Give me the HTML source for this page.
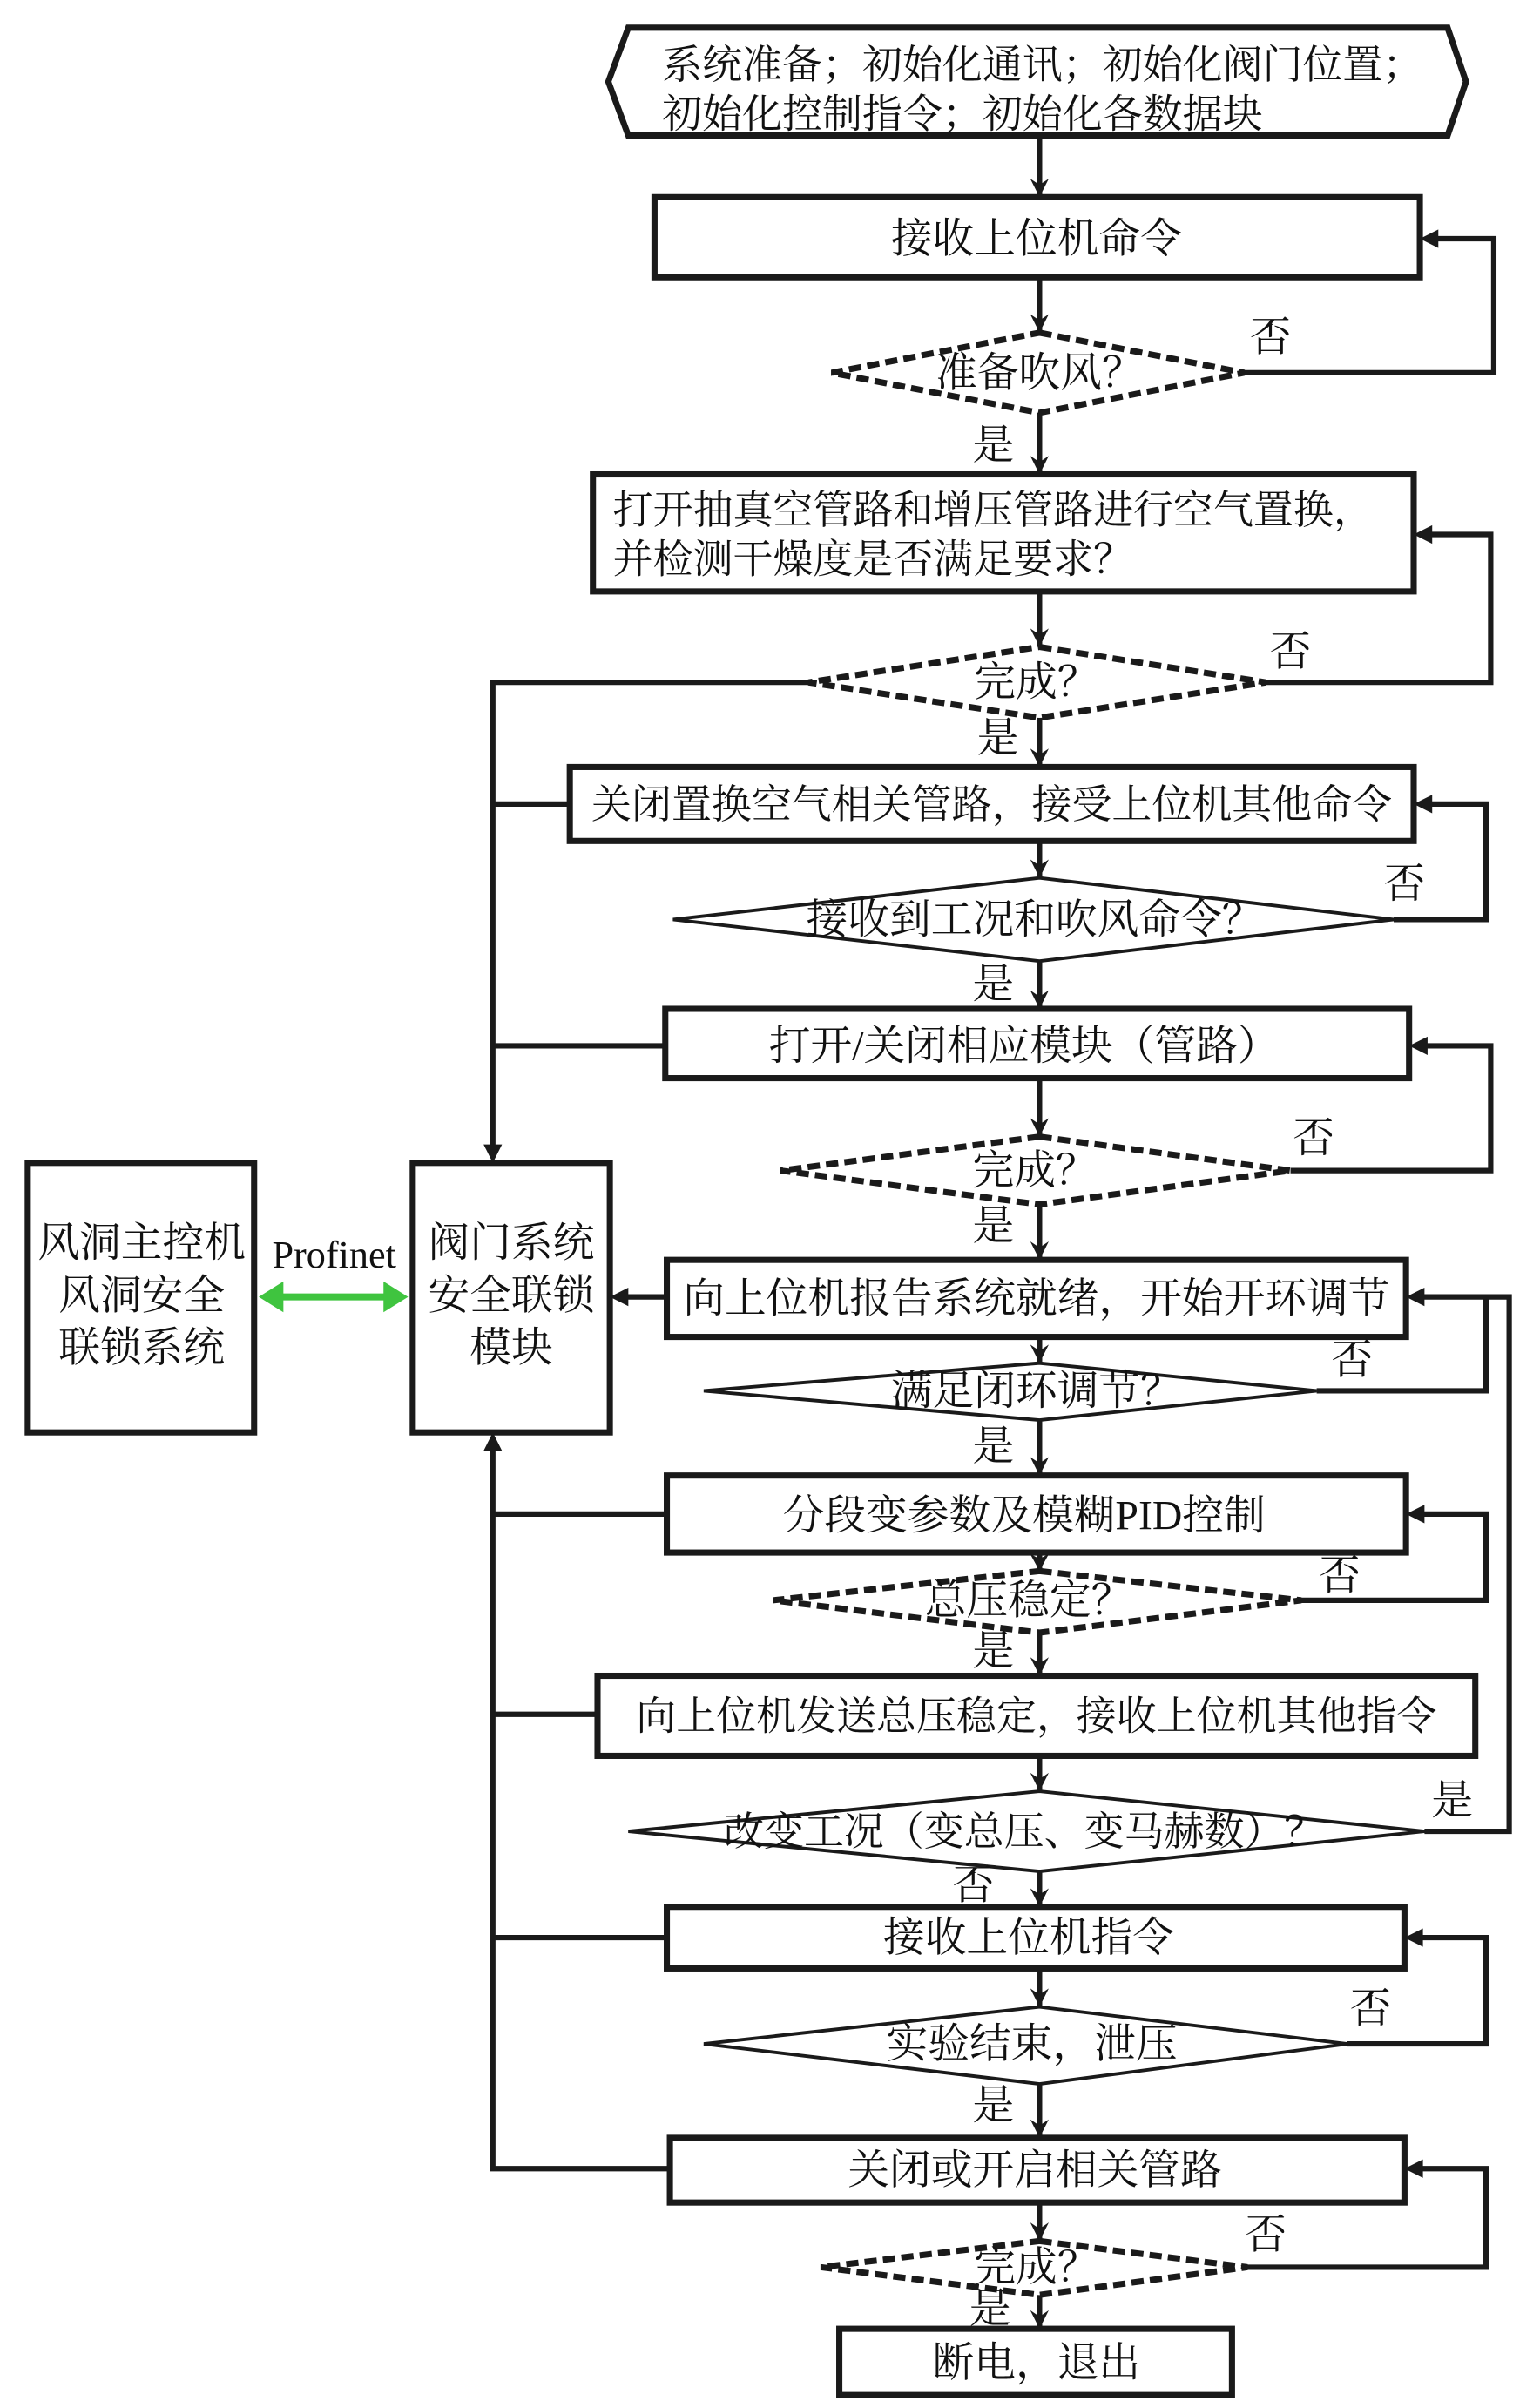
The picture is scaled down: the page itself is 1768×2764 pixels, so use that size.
<!DOCTYPE html>
<html><head><meta charset="utf-8"><style>
html,body{margin:0;padding:0;background:#fff;}
svg{display:block;}
text{font-family:"Liberation Serif","Noto Serif CJK SC",serif;fill:#111;}
</style></head><body>
<svg width="1768" height="2764" viewBox="0 0 1000 1563.4" xmlns="http://www.w3.org/2000/svg">
<g stroke="#1a1a1a" fill="none" stroke-linejoin="miter">
<g stroke-width="3.5">
<line x1="675" y1="88" x2="675" y2="128"/>
<line x1="675" y1="180" x2="675" y2="216"/>
<line x1="675" y1="268" x2="675" y2="308"/>
<line x1="675" y1="384" x2="675" y2="420"/>
<line x1="675" y1="466" x2="675" y2="498"/>
<line x1="675" y1="546" x2="675" y2="570"/>
<line x1="675" y1="624" x2="675" y2="655"/>
<line x1="675" y1="700" x2="675" y2="738"/>
<line x1="675" y1="782" x2="675" y2="818"/>
<line x1="675" y1="868" x2="675" y2="885"/>
<line x1="675" y1="922" x2="675" y2="958"/>
<line x1="675" y1="1008" x2="675" y2="1020"/>
<line x1="675" y1="1060" x2="675" y2="1088"/>
<line x1="675" y1="1140" x2="675" y2="1163"/>
<line x1="675" y1="1215" x2="675" y2="1238"/>
<line x1="675" y1="1278" x2="675" y2="1303"/>
<line x1="675" y1="1353" x2="675" y2="1388"/>
<line x1="675" y1="1430" x2="675" y2="1455"/>
<line x1="675" y1="1490" x2="675" y2="1512"/>
<polyline points="808,242 970,242 970,155 926,155"/>
<polyline points="822,443 968,443 968,347 922,347"/>
<polyline points="905,597 965,597 965,522 922,522"/>
<polyline points="838,760 968,760 968,679 919,679"/>
<polyline points="855,903 965,903 965,842 917,842"/>
<polyline points="845,1039 965,1039 965,983 917,983"/>
<polyline points="925,1189 980,1189 980,842 965,842"/>
<polyline points="875,1327 965,1327 965,1258 916,1258"/>
<polyline points="810,1472 965,1472 965,1408 916,1408"/>
<polyline points="525,443 320,443 320,748"/>
<line x1="370" y1="522" x2="320" y2="522"/>
<line x1="432" y1="679" x2="320" y2="679"/>
<line x1="433" y1="842" x2="400" y2="842"/>
<line x1="433" y1="983" x2="320" y2="983"/>
<line x1="388" y1="1113" x2="320" y2="1113"/>
<line x1="433" y1="1258" x2="320" y2="1258"/>
<polyline points="435,1408 320,1408 320,936"/>
</g>
</g>
<g fill="#1a1a1a">
<path d="M669,116 L675,128 L681,116 L675,120Z"/>
<path d="M669,204 L675,216 L681,204 L675,208Z"/>
<path d="M669,296 L675,308 L681,296 L675,300Z"/>
<path d="M669,408 L675,420 L681,408 L675,412Z"/>
<path d="M669,486 L675,498 L681,486 L675,490Z"/>
<path d="M669,558 L675,570 L681,558 L675,562Z"/>
<path d="M669,643 L675,655 L681,643 L675,647Z"/>
<path d="M669,726 L675,738 L681,726 L675,730Z"/>
<path d="M669,806 L675,818 L681,806 L675,810Z"/>
<path d="M669,873 L675,885 L681,873 L675,877Z"/>
<path d="M669,946 L675,958 L681,946 L675,950Z"/>
<path d="M669,1009 L675,1020 L681,1009 L675,1012Z"/>
<path d="M669,1076 L675,1088 L681,1076 L675,1080Z"/>
<path d="M669,1151 L675,1163 L681,1151 L675,1155Z"/>
<path d="M669,1226 L675,1238 L681,1226 L675,1230Z"/>
<path d="M669,1291 L675,1303 L681,1291 L675,1295Z"/>
<path d="M669,1376 L675,1388 L681,1376 L675,1380Z"/>
<path d="M669,1443 L675,1455 L681,1443 L675,1447Z"/>
<path d="M669,1500 L675,1512 L681,1500 L675,1504Z"/>
<path d="M922,155 L934,149 L934,161Z"/>
<path d="M918,347 L930,341 L930,353Z"/>
<path d="M918,522 L930,516 L930,528Z"/>
<path d="M915,679 L927,673 L927,685Z"/>
<path d="M913,842 L925,836 L925,848Z"/>
<path d="M913,983 L925,977 L925,989Z"/>
<path d="M912,1258 L924,1252 L924,1264Z"/>
<path d="M912,1408 L924,1402 L924,1414Z"/>
<path d="M396,842 L408,836 L408,848Z"/>
<path d="M320,755 L314,743 L326,743Z"/>
<path d="M320,930 L314,942 L326,942Z"/>
</g>
<g>
<line x1="180" y1="842" x2="253" y2="842" stroke="#3fc43f" stroke-width="4.5"/>
<path d="M168,842 L184,832 L184,852Z" fill="#3fc43f"/>
<path d="M265,842 L249,832 L249,852Z" fill="#3fc43f"/>
</g>
<g stroke="#1a1a1a" stroke-width="4" fill="#fff">
<polygon points="408,18 940,18 952,53 940,88 408,88 395,53"/>
<rect x="425" y="128" width="497" height="52"/>
<rect x="385" y="308" width="533" height="76"/>
<rect x="370" y="498" width="548" height="48"/>
<rect x="432" y="655" width="483" height="45"/>
<rect x="433" y="818" width="480" height="50"/>
<rect x="433" y="958" width="480" height="50"/>
<rect x="388" y="1088" width="570" height="52"/>
<rect x="433" y="1238" width="479" height="40"/>
<rect x="435" y="1388" width="477" height="42"/>
<rect x="545" y="1512" width="255" height="43"/>
<rect x="268" y="755" width="128" height="175"/>
<rect x="18" y="755" width="147" height="175"/>
</g>
<g fill="#fff" stroke="#1a1a1a">
<polygon points="675,216 808,242 675,268 540,242" stroke-width="4" stroke-dasharray="8,4"/>
<polygon points="675,420 822,443 675,466 525,443" stroke-width="4" stroke-dasharray="8,4"/>
<polygon points="675,570 905,597 675,624 437,597" stroke-width="2.2"/>
<polygon points="675,738 838,760 675,782 507,760" stroke-width="4" stroke-dasharray="8,4"/>
<polygon points="675,885 855,903 675,922 457,903" stroke-width="2.2"/>
<polygon points="675,1020 845,1039 675,1060 502,1039" stroke-width="4" stroke-dasharray="8,4"/>
<polygon points="675,1163 925,1189 675,1215 408,1189" stroke-width="2.2"/>
<polygon points="675,1303 875,1327 675,1353 457,1327" stroke-width="2.2"/>
<polygon points="675,1455 810,1472 675,1490 533,1472" stroke-width="4" stroke-dasharray="8,4"/>
</g>
<g font-size="27">
<text x="430" y="51" font-size="26">系统准备；初始化通讯；初始化阀门位置；</text>
<text x="430" y="83" font-size="26">初始化控制指令；初始化各数据块</text>
<text x="673" y="164" text-anchor="middle">接收上位机命令</text>
<text x="675" y="251" text-anchor="middle">准备吹风？</text>
<text x="398" y="340" font-size="26">打开抽真空管路和增压管路进行空气置换，</text>
<text x="398" y="372" font-size="26">并检测干燥度是否满足要求？</text>
<text x="673" y="452" text-anchor="middle">完成？</text>
<text x="644" y="531" text-anchor="middle" font-size="26">关闭置换空气相关管路，接受上位机其他命令</text>
<text x="672" y="606" text-anchor="middle">接收到工况和吹风命令？</text>
<text x="665" y="688" text-anchor="middle">打开/关闭相应模块（管路）</text>
<text x="672" y="769" text-anchor="middle">完成？</text>
<text x="673" y="852" text-anchor="middle">向上位机报告系统就绪，开始开环调节</text>
<text x="673" y="912" text-anchor="middle">满足闭环调节？</text>
<text x="665" y="993" text-anchor="middle">分段变参数及模糊PID控制</text>
<text x="668" y="1048" text-anchor="middle">总压稳定？</text>
<text x="673" y="1123" text-anchor="middle" font-size="26">向上位机发送总压稳定，接收上位机其他指令</text>
<text x="665" y="1198" text-anchor="middle" font-size="26">改变工况（变总压、变马赫数）？</text>
<text x="668" y="1267" text-anchor="middle">接收上位机指令</text>
<text x="670" y="1336" text-anchor="middle">实验结束，泄压</text>
<text x="672" y="1418" text-anchor="middle">关闭或开启相关管路</text>
<text x="673" y="1481" text-anchor="middle">完成？</text>
<text x="673" y="1543" text-anchor="middle">断电，退出</text>
<text x="92" y="816" text-anchor="middle">风洞主控机</text>
<text x="92" y="850" text-anchor="middle">风洞安全</text>
<text x="92" y="884" text-anchor="middle">联锁系统</text>
<text x="332" y="816" text-anchor="middle">阀门系统</text>
<text x="332" y="850" text-anchor="middle">安全联锁</text>
<text x="332" y="884" text-anchor="middle">模块</text>
<text x="217" y="823" text-anchor="middle" font-size="25">Profinet</text>
<text x="825" y="228" text-anchor="middle">否</text>
<text x="645" y="298" text-anchor="middle">是</text>
<text x="838" y="432" text-anchor="middle">否</text>
<text x="648" y="488" text-anchor="middle">是</text>
<text x="912" y="583" text-anchor="middle">否</text>
<text x="645" y="648" text-anchor="middle">是</text>
<text x="853" y="748" text-anchor="middle">否</text>
<text x="645" y="805" text-anchor="middle">是</text>
<text x="878" y="892" text-anchor="middle">否</text>
<text x="645" y="948" text-anchor="middle">是</text>
<text x="870" y="1032" text-anchor="middle">否</text>
<text x="645" y="1081" text-anchor="middle">是</text>
<text x="943" y="1178" text-anchor="middle">是</text>
<text x="632" y="1233" text-anchor="middle">否</text>
<text x="890" y="1313" text-anchor="middle">否</text>
<text x="645" y="1376" text-anchor="middle">是</text>
<text x="822" y="1460" text-anchor="middle">否</text>
<text x="643" y="1508" text-anchor="middle">是</text>
</g>
</svg>
</body></html>
